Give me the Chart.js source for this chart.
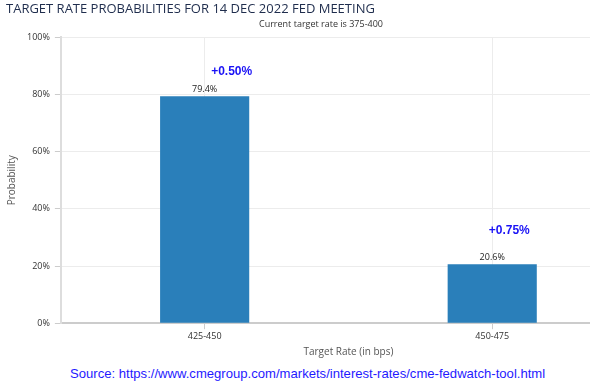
<!DOCTYPE html>
<html>
<head>
<meta charset="utf-8">
<script src="https://cdn.jsdelivr.net/npm/chart.js@4/dist/chart.umd.min.js"></script>
<style>
  html, body { margin: 0; padding: 0; background: #fff; overflow: hidden; }
  #wrap { position: relative; width: 636px; height: 358px; }
  #source {
    position: absolute; left: 70px; top: 366px;
    font-family: "Liberation Sans", Arial, sans-serif; font-size: 13.1px;
    color: #1f1aff; white-space: nowrap;
  }
</style>
</head>
<body>
<div id="wrap"><canvas id="fedChart"></canvas></div>
<div id="source">Source: https://www.cmegroup.com/markets/interest-rates/cme-fedwatch-tool.html</div>
<script>
// Dữ liệu biểu đồ
const rateRanges = ["425-450", "450-475"];
const probabilities = [79.4, 20.6];
const hikeLabels = ["+0.50%", "+0.75%"];
const hikeLabelLevels = [88, 32.5]; // vị trí theo trục y (%)
const yTicks = [0, 20, 40, 60, 80, 100];

// Nhãn giá trị trên cột + nhãn mức tăng
const labelPlugin = {
  id: "barLabels",
  afterDatasetsDraw(chart, args, opts) {
    const ctx = chart.ctx;
    const meta = chart.getDatasetMeta(0);
    const x = chart.scales.x;
    const y = chart.scales.y;
    ctx.save();
    ctx.textAlign = "center";
    meta.data.forEach((bar, i) => {
      ctx.fillStyle = "#222";
      ctx.font = "9px 'Open Sans', sans-serif";
      ctx.textBaseline = "bottom";
      ctx.fillText(probabilities[i].toFixed(1) + "%", bar.x, bar.y - 2);

      ctx.fillStyle = "#1a12f5";
      ctx.font = "bold 12px 'Liberation Sans', Arial, sans-serif";
      ctx.textBaseline = "middle";
      ctx.fillText(hikeLabels[i], x.getPixelForValue(i) + opts.offsets[i], y.getPixelForValue(hikeLabelLevels[i]));
    });
    ctx.restore();
  },
};

const ctxFed = document.getElementById("fedChart").getContext("2d");
new Chart(ctxFed, {
  type: "bar",
  data: {
    labels: rateRanges,
    datasets: [
      {
        data: probabilities,
        backgroundColor: "#2a7fba",
        barPercentage: 0.31,
        categoryPercentage: 1,
      },
    ],
  },
  options: {
    responsive: true,
    maintainAspectRatio: false,
    animation: false,
    layout: { padding: { left: 6, right: 0, top: 1, bottom: 0 } },
    plugins: {
      legend: { display: false },
      tooltip: { enabled: false },
      title: {
        display: true,
        text: "TARGET RATE PROBABILITIES FOR 14 DEC 2022 FED MEETING",
        align: "start",
        color: "#1f2d4d",
        font: { family: "'Open Sans', sans-serif", size: 13, weight: "normal" },
        padding: { top: 0, bottom: 2 },
      },
      subtitle: {
        display: true,
        text: "Current target rate is 375-400",
        color: "#333",
        font: { family: "'Open Sans', sans-serif", size: 9 },
        padding: { top: 0, bottom: 8 },
      },
      barLabels: { offsets: [27, 17] },
    },
    scales: {
      x: {
        grid: {
          offset: false,
          color: "#ececec",
          tickColor: "#ccc",
          tickLength: 6,
        },
        border: { color: "#ccc", width: 2 },
        ticks: {
          color: "#333",
          font: { family: "'Open Sans', sans-serif", size: 9 },
          padding: 2,
        },
        title: {
          display: true,
          text: "Target Rate (in bps)",
          color: "#555",
          font: { family: "'Open Sans', sans-serif", size: 10 },
          padding: { top: 2, bottom: 0 },
        },
      },
      y: {
        min: 0,
        max: 100,
        afterBuildTicks: (scale) => {
          scale.ticks = yTicks.map((v) => ({ value: v }));
        },
        grid: { color: "#ececec", tickColor: "#ccc", tickLength: 6 },
        border: { color: "#ddd", width: 2 },
        ticks: {
          color: "#333",
          font: { family: "'Open Sans', sans-serif", size: 9 },
          padding: 5,
          callback: (v) => v + "%",
        },
        title: {
          display: true,
          text: "Probability",
          color: "#555",
          font: { family: "'Open Sans', sans-serif", size: 10 },
          padding: { top: 0, bottom: 4 },
        },
      },
    },
  },
  plugins: [labelPlugin],
});
</script>
</body>
</html>
